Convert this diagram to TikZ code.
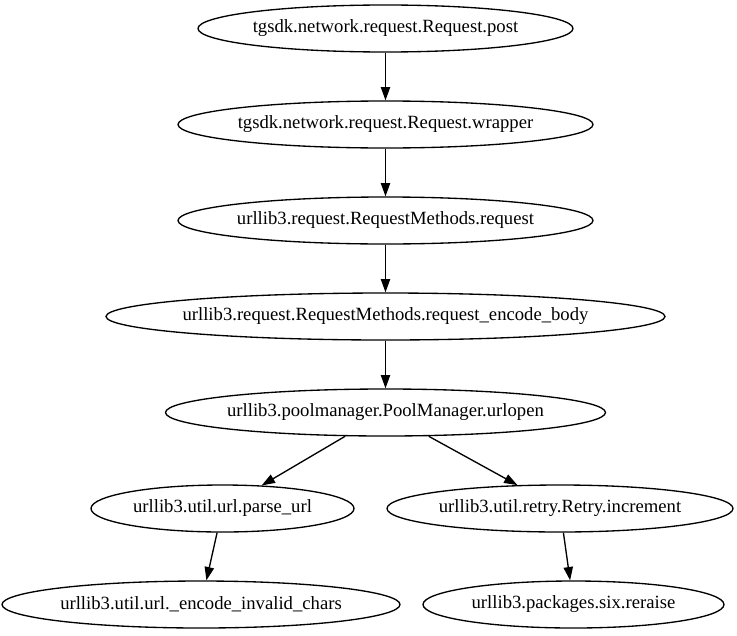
\documentclass[tikz,border=0pt]{standalone}
\usepackage{fontspec}
\setmainfont{Liberation Serif}
\usetikzlibrary{shapes.geometric,arrows.meta}
\begin{document}
\begin{tikzpicture}[x=0.75pt,y=-0.75pt,
  fn/.style={ellipse, draw, line width=1pt, inner sep=0pt, minimum height=35.25pt,
    label={[font=\fontsize{14}{16}\selectfont, inner sep=0pt]center:#1}},
  edge/.style={-{Triangle[length=10pt,width=7pt]}, line width=1pt}]
\useasboundingbox (0,0) rectangle (737,635);
\node[fn={tgsdk.network.request.Request.post}, minimum width=281.25pt] (post) at (385.5,28.5) {};
\node[fn={tgsdk.network.request.Request.wrapper}, minimum width=311.25pt] (wrapper) at (385.5,124.5) {};
\node[fn={urllib3.request.RequestMethods.request}, minimum width=311.25pt] (request) at (385.5,220.5) {};
\node[fn={urllib3.request.RequestMethods.request\_encode\_body}, minimum width=419.25pt] (encbody) at (385.5,316.5) {};
\node[fn={urllib3.poolmanager.PoolManager.urlopen}, minimum width=330pt] (urlopen) at (385.5,412.5) {};
\node[fn={urllib3.util.url.parse\_url}, minimum width=197.25pt] (parse) at (222.5,508.5) {};
\node[fn={urllib3.util.retry.Retry.increment}, minimum width=259.5pt] (incr) at (560,508.5) {};
\node[fn={urllib3.util.url.\_encode\_invalid\_chars}, minimum width=298.5pt] (encinv) at (201,604.5) {};
\node[fn={urllib3.packages.six.reraise}, minimum width=225.75pt] (reraise) at (573.5,604.5) {};
\draw[edge] (post) -- (wrapper);
\draw[edge] (wrapper) -- (request);
\draw[edge] (request) -- (encbody);
\draw[edge] (encbody) -- (urlopen);
\draw[edge] (urlopen) -- (parse);
\draw[edge] (urlopen) -- (incr);
\draw[edge] (parse) -- (encinv);
\draw[edge] (incr) -- (reraise);
\end{tikzpicture}
\end{document}
